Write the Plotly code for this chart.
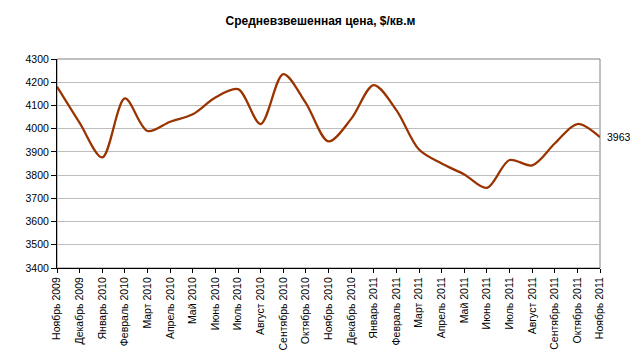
import plotly.graph_objects as go

months = ["Ноябрь 2009", "Декабрь 2009", "Январь 2010", "Февраль 2010", "Март 2010",
          "Апрель 2010", "Май 2010", "Июнь 2010", "Июль 2010", "Август 2010",
          "Сентябрь 2010", "Октябрь 2010", "Ноябрь 2010", "Декабрь 2010", "Январь 2011",
          "Февраль 2011", "Март 2011", "Апрель 2011", "Май 2011", "Июнь 2011",
          "Июль 2011", "Август 2011", "Сентябрь 2011", "Октябрь 2011", "Ноябрь 2011"]

prices = [4181, 4025, 3876, 4130, 3990,
          4030, 4062, 4134, 4170, 4020,
          4235, 4110, 3945, 4042, 4188,
          4080, 3910, 3850, 3803, 3745,
          3865, 3842, 3936, 4020, 3963]

y_ticks = list(range(3400, 4301, 100))

title_text = "Средневзвешенная цена, $/кв.м"

FONT = "Arial, 'Liberation Sans', sans-serif"

fig = go.Figure()
fig.add_trace(go.Scatter(
    x=months, y=prices,
    mode="lines",
    line=dict(color="#993300", width=2.25, shape="spline", smoothing=0.9),
    hoverinfo="x+y",
))

fig.add_annotation(
    x=months[-1], y=prices[-1], text=str(prices[-1]),
    xref="x", yref="y", showarrow=False,
    xanchor="left", yanchor="middle", xshift=5,
    font=dict(family=FONT, size=10.5, color="#000000"),
)

fig.update_layout(
    width=641, height=359,
    margin=dict(l=57, r=41, t=59, b=91, autoexpand=False),
    paper_bgcolor="white", plot_bgcolor="white",
    showlegend=False,
    font=dict(family=FONT, color="#000000"),
    title=dict(text="<b>" + title_text + "</b>", x=0.5, xanchor="center",
               y=1 - 21 / 359, yanchor="middle", yref="container",
               font=dict(family=FONT, size=12, color="#000000")),
    shapes=[dict(type="rect", xref="paper", yref="paper", x0=0, x1=1, y0=0, y1=1,
                 line=dict(color="#808080", width=1), layer="below")],
)

fig.update_xaxes(
    type="category",
    range=[0, len(months) - 1],
    tickangle=-90,
    tickfont=dict(family=FONT, size=10.5, color="#000000"),
    showgrid=False,
    showline=True, linecolor="#000000", linewidth=1,
    ticks="outside", ticklen=4, tickcolor="#000000",
    zeroline=False,
    automargin=False,
)

fig.update_yaxes(
    range=[3400, 4300],
    tickvals=y_ticks,
    tickfont=dict(family=FONT, size=10.5, color="#000000"),
    showgrid=True, gridcolor="#bdbdbd", gridwidth=1,
    showline=True, linecolor="#000000", linewidth=1,
    ticks="outside", ticklen=5, tickcolor="#000000",
    zeroline=False,
    automargin=False,
)

fig.write_html("out.html", config={"displayModeBar": False},
               post_script="document.body.style.margin='0';")
